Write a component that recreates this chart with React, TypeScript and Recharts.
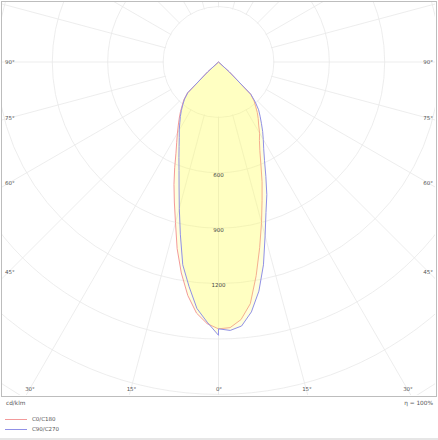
import { RadarChart, Radar, PolarGrid, PolarAngleAxis, PolarRadiusAxis } from "recharts";

// gamma angles (degrees from nadir): 2.5 degree steps in the beam, 5 degree steps above it
const gammaDeg = [
  0, 2.5, 5, 7.5, 10, 12.5, 15, 17.5, 20, 22.5, 25, 27.5, 30, 32.5, 35, 37.5, 40, 42.5, 45, 47.5, 50,
  55, 60, 65, 70, 75, 80, 85, 90, 95, 100, 105, 110, 115, 120, 125, 130, 135, 140, 145, 150,
  155, 160, 165, 170, 175, 180,
];

// cd/klm
const c0Values = [
  1445, 1440, 1400, 1320, 1175, 1030, 900, 785, 690, 600, 530, 480, 445, 405, 375, 345, 312, 285, 245, 80, 0,
  0, 0, 0, 0, 0, 0, 0, 0, 0, 0, 0, 0, 0, 0, 0, 0, 0, 0, 0, 0, 0, 0, 0, 0, 0, 0,
];
const c180Values = [
  1445, 1418, 1365, 1275, 1160, 1035, 900, 795, 705, 620, 545, 490, 445, 405, 370, 338, 305, 278, 238, 80, 0,
  0, 0, 0, 0, 0, 0, 0, 0, 0, 0, 0, 0, 0, 0, 0, 0, 0, 0, 0, 0, 0, 0, 0, 0, 0, 0,
];
const c90Values = [
  1445, 1455, 1435, 1365, 1260, 1125, 975, 855, 765, 670, 590, 530, 485, 445, 405, 370, 338, 295, 248, 80, 0,
  0, 0, 0, 0, 0, 0, 0, 0, 0, 0, 0, 0, 0, 0, 0, 0, 0, 0, 0, 0, 0, 0, 0, 0, 0, 0,
];
const c270Values = [
  1480, 1410, 1340, 1225, 1115, 955, 820, 710, 625, 560, 505, 460, 425, 390, 360, 330, 300, 272, 235, 80, 0,
  0, 0, 0, 0, 0, 0, 0, 0, 0, 0, 0, 0, 0, 0, 0, 0, 0, 0, 0, 0, 0, 0, 0, 0, 0, 0,
];

const seriesNames = ["C0/C180", "C90/C270"];
const radiusLabels = [600, 900, 1200];
const sideAngleLabels = ["90°", "75°", "60°", "45°"];
const bottomAngleLabels = ["30°", "15°", "0°", "15°", "30°"];
const unitLabel = "cd/klm";
const efficiencyLabel = "η = 100%";

// white disc below the 300 cd/klm ring (the grid has no spokes inside it)
const maskLevel = 295;

// right half: phi = gamma, left half: phi = 360 - gamma
const data = [
  ...gammaDeg.map((g, i) => ({
    phi: g,
    c0c180: c0Values[i],
    c90c270: c90Values[i],
    mask: maskLevel,
  })),
  ...gammaDeg
    .map((g, i) => ({
      phi: 360 - g,
      c0c180: c180Values[i],
      c90c270: c270Values[i],
      mask: maskLevel,
    }))
    .slice(0, -1)
    .reverse(),
];

const RED = "#f39a9a";
const BLUE = "#9090e6";
const FILL = "#ffff66";

// layout (page pixels)
const sideLabelY = [63, 119, 184, 273];
const bottomLabelX = [30, 131.5, 219, 307, 408];
const legendY = [419, 429];

const RadiusTick = (props: any) => {
  const { x, y, payload } = props;
  if (!radiusLabels.includes(payload.value)) return <g />;
  return (
    <text
      x={x}
      y={y + 1.8}
      textAnchor="middle"
      dominantBaseline="central"
      fontSize={5.5}
      fontFamily="DejaVu Sans"
      fill="#444"
    >
      {payload.value}
    </text>
  );
};

const labelStyle = {
  position: "absolute" as const,
  whiteSpace: "nowrap" as const,
  lineHeight: 1,
};

const App = () => {
  return (
    <div
      style={{
        position: "absolute",
        left: 0,
        top: 0,
        width: 438,
        height: 440,
        background: "#fff",
        fontFamily: '"DejaVu Sans", sans-serif',
        fontSize: 5.5,
        color: "#555",
        overflow: "hidden",
      }}
    >
      <div
        style={{
          position: "absolute",
          left: 1,
          top: 1,
          width: 436,
          height: 396,
          boxSizing: "border-box",
          border: "1.5px solid #bdbdbd",
          overflow: "hidden",
        }}
      >
        <RadarChart
          width={433}
          height={393}
          data={data}
          cx={216.5}
          cy={60}
          innerRadius={0}
          outerRadius={443.2}
          startAngle={-90}
          endAngle={270}
          margin={{ top: 0, right: 0, bottom: 0, left: 0 }}
        >
          <PolarGrid gridType="circle" stroke="#e8e8e8" strokeWidth={0.8} />
          <PolarAngleAxis
            type="number"
            dataKey="phi"
            domain={[0, 360]}
            tickCount={25}
            tick={false}
            axisLine={false}
          />
          <Radar
            dataKey="mask"
            fill="#ffffff"
            fillOpacity={1}
            stroke="none"
            isAnimationActive={false}
          />
          <Radar
            name={seriesNames[0]}
            dataKey="c0c180"
            stroke={RED}
            strokeWidth={1}
            fill={FILL}
            fillOpacity={0.22}
            isAnimationActive={false}
          />
          <Radar
            name={seriesNames[1]}
            dataKey="c90c270"
            stroke={BLUE}
            strokeWidth={1}
            fill={FILL}
            fillOpacity={0.22}
            isAnimationActive={false}
          />
          <PolarRadiusAxis
            type="number"
            angle={-90}
            domain={[0, 2400]}
            tickCount={9}
            axisLine={false}
            tick={RadiusTick}
          />
        </RadarChart>
      </div>

      {sideAngleLabels.map((t, i) => (
        <span key={"l" + i} style={{ ...labelStyle, left: 5, top: sideLabelY[i], transform: "translateY(-50%)" }}>
          {t}
        </span>
      ))}
      {sideAngleLabels.map((t, i) => (
        <span key={"r" + i} style={{ ...labelStyle, right: 5, top: sideLabelY[i], transform: "translateY(-50%)" }}>
          {t}
        </span>
      ))}
      {bottomAngleLabels.map((t, i) => (
        <span
          key={"b" + i}
          style={{ ...labelStyle, left: bottomLabelX[i], top: 390, transform: "translate(-50%, -50%)" }}
        >
          {t}
        </span>
      ))}

      <span style={{ ...labelStyle, left: 6, top: 404, transform: "translateY(-50%)", fontSize: 5.8 }}>{unitLabel}</span>
      <span style={{ ...labelStyle, right: 5, top: 404, transform: "translateY(-50%)", fontSize: 5.8 }}>
        {efficiencyLabel}
      </span>

      {seriesNames.map((name, i) => (
        <div key={name}>
          <div
            style={{
              position: "absolute",
              left: 5,
              top: legendY[i],
              width: 22,
              height: 1,
              background: i === 0 ? RED : BLUE,
            }}
          />
          <span style={{ ...labelStyle, left: 32, top: legendY[i] + 0.5, transform: "translateY(-50%)" }}>{name}</span>
        </div>
      ))}

      <div style={{ position: "absolute", left: 0, top: 438, width: 438, height: 2, background: "#e6e6e6" }} />
    </div>
  );
};

export default App;
